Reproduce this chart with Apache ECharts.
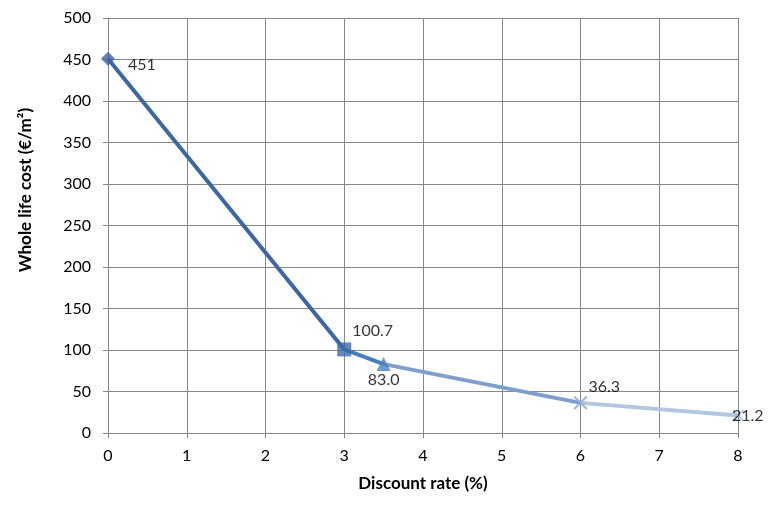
<!DOCTYPE html>
<html><head><meta charset="utf-8">
<script src="https://cdn.jsdelivr.net/npm/echarts@6/dist/echarts.min.js"></script>
<style>html,body{margin:0;padding:0;background:#fff}#c{width:769px;height:506px}</style>
</head><body><div id="c"></div>
<script>
const rates = [0, 3, 3.5, 6, 8];
const costs = [451, 100.7, 83.0, 36.3, 21.2];
const labels = ['451', '100.7', '83.0', '36.3', '21.2'];
const segColors = ['#3b67a3', '#4a7dbb', '#7e9fcc', '#b3c6e0'];
const markerColors = ['#3a63a0', '#3d6aa8', '#4a7ebb', '#8eaad3', '#a9bedc'];
const xTicks = [0, 1, 2, 3, 4, 5, 6, 7, 8];
const yTicks = [0, 50, 100, 150, 200, 250, 300, 350, 400, 450, 500];
const xTitle = 'Discount rate (%)';
const yTitle = 'Whole life cost (€/m²)';

const xPath = 'path://M0,1.2L1.2,0L5,3.8L8.8,0L10,1.2L6.2,5L10,8.8L8.8,10L5,6.2L1.2,10L0,8.8L3.8,5Z';
const symbols = ['diamond', 'rect', 'triangle', xPath, xPath];
const symbolSizes = [14, 14, 14, 14, 12];
const labelPos = [[20, 6, 'left'], [8, -19, 'left'], [0, 16, 'center'], [8, -16, 'left'], [-6, 0, 'left']];

const font = 'Lato, "Noto Sans", sans-serif';
const series = [];
for (let i = 0; i < rates.length - 1; i++) {
  series.push({
    type: 'line', symbol: 'none', silent: true, z: 2,
    lineStyle: { color: segColors[i], width: 4 },
    data: [[rates[i], costs[i]], [rates[i + 1], costs[i + 1]]]
  });
}
series.push({
  type: 'scatter', z: 5,
  data: rates.map((r, i) => ({
    value: [r, costs[i]],
    symbol: symbols[i],
    symbolSize: symbolSizes[i],
    itemStyle: { color: markerColors[i] },
    label: {
      show: true, formatter: labels[i], color: '#000', fontSize: 16, fontFamily: font,
      textBorderWidth: 0, textBorderColor: 'transparent',
      position: 'inside', offset: [labelPos[i][0], labelPos[i][1]], align: labelPos[i][2]
    }
  }))
});

const chart = echarts.init(document.getElementById('c'));
chart.setOption({
  animation: false,
  grid: { left: 108, right: 31, top: 18, bottom: 73 },
  graphic: [{
    type: 'text', x: 26, y: 190, rotation: Math.PI / 2,
    style: { text: yTitle, font: 'bold 17px ' + font, fill: '#000', align: 'center', verticalAlign: 'middle' }
  }],
  xAxis: {
    type: 'value', min: 0, max: 8, interval: 1,
    name: xTitle, nameLocation: 'middle', nameGap: 42,
    nameTextStyle: { fontWeight: 'bold', fontSize: 17, fontFamily: font, color: '#000' },
    axisLine: { lineStyle: { color: '#868686' } },
    axisTick: { show: true, length: 5, lineStyle: { color: '#868686' } },
    axisLabel: { fontSize: 16, fontFamily: font, color: '#000', margin: 15,
      formatter: v => xTicks.includes(v) ? String(v) : '' },
    splitLine: { show: true, lineStyle: { color: '#888', width: 1 } }
  },
  yAxis: {
    type: 'value', min: 0, max: 500, interval: 50,
    axisLine: { show: true, lineStyle: { color: '#868686' } },
    axisTick: { show: true, length: 5, lineStyle: { color: '#868686' } },
    axisLabel: { fontSize: 16, fontFamily: font, color: '#000', margin: 17,
      formatter: v => yTicks.includes(v) ? String(v) : '' },
    splitLine: { show: true, lineStyle: { color: '#888', width: 1 } }
  },
  series: series
});
</script></body></html>
